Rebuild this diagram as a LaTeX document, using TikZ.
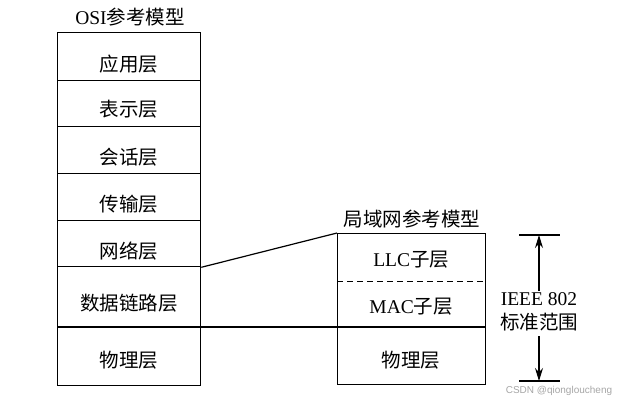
\documentclass[tikz,border=0pt]{standalone}
\usepackage{fontspec}
\setmainfont{Liberation Serif}
\newfontfamily\cjk{Noto Sans CJK SC}
\newfontfamily\wmfont{Liberation Sans}
\usetikzlibrary{arrows.meta}
\begin{document}
\begin{tikzpicture}[x=1pt,y=-1pt,
  every node/.style={font=\fontsize{19.5}{23}\selectfont},
  layer/.style={draw, line width=1.3pt, minimum width=143pt, inner sep=0pt, anchor=north west},
  sub/.style={minimum width=148pt, inner sep=0pt, anchor=north west},
  ttl/.style={inner sep=0pt},
  txt/.style={inner sep=0pt, font=\cjk\fontsize{19.5}{23}\selectfont},
  conn/.style={line width=1.2pt},
  arr/.style={line width=1.1pt, -{Stealth[length=13pt,width=8pt]}}
]
\useasboundingbox (0,0) rectangle (623,401);
% OSI stack
\node[ttl] (osit) at (130,17) {OSI{\cjk 参考模型}};
\node[layer, minimum height=48pt] (osi1) at (57,32) {};
\node[layer, minimum height=46pt] (osi2) at (57,80) {};
\node[layer, minimum height=47pt] (osi3) at (57,126) {};
\node[layer, minimum height=47pt] (osi4) at (57,173) {};
\node[layer, minimum height=46pt] (osi5) at (57,220) {};
\node[layer, minimum height=61pt] (osi6) at (57,266) {};
\node[layer, minimum height=58pt] (osi7) at (57,327) {};
\node[txt] (t1) at ([yshift=-7pt]osi1.center) {应用层};
\node[txt] (t2) at ([yshift=-6pt]osi2.center) {表示层};
\node[txt] (t3) at ([yshift=-7pt]osi3.center) {会话层};
\node[txt] (t4) at ([yshift=-7pt]osi4.center) {传输层};
\node[txt] (t5) at ([yshift=-7pt]osi5.center) {网络层};
\node[txt] (t6) at ([yshift=-6pt]osi6.center) {数据链路层};
\node[txt] (t7) at ([yshift=-4pt]osi7.center) {物理层};
% LAN stack
\node[ttl] (lant) at (412,219) {\cjk 局域网参考模型};
\node[draw, line width=1.3pt, minimum width=148pt, minimum height=151pt, inner sep=0pt, anchor=north west] (lan) at (337,233) {};
\node[sub, minimum height=48pt] (llc) at (337,233) {};
\node[sub, minimum height=46pt] (mac) at (337,281) {};
\node[sub, minimum height=57pt] (phy2) at (337,327) {};
\node[ttl] (tl) at ([yshift=-2pt]llc.center) {LLC{\cjk 子层}};
\node[ttl] (tm) at ([yshift=-2pt]mac.center) {MAC{\cjk 子层}};
\node[txt] (tp) at ([yshift=-4pt]phy2.center) {物理层};
\draw[line width=1.1pt, dash pattern=on 6pt off 4pt] (llc.south west) -- (llc.south east);
% connectors
\draw[conn] (osi5.south east) -- (lan.north west);
\draw[conn] (osi7.north west) -- (phy2.north east);
% IEEE 802 scope
\coordinate (ttop) at (539,235);
\coordinate (tbot) at (539,381);
\draw[line width=1.2pt] (519,235) -- (560,235);
\draw[line width=1.2pt] (519,381) -- (560,381);
\node[ttl, align=center, font=\fontsize{19.5}{24}\selectfont] (ieee) at (539,312) {IEEE 802\\{\cjk 标准范围}};
\draw[arr] (ieee.north) ++(0,-2) -- (ttop);
\draw[arr] (ieee.south) ++(0,5) -- (tbot);
% watermark
\node[ttl, text=black!35, font=\wmfont\fontsize{10}{12}\selectfont] (wm) at (559,391) {CSDN @qiongloucheng};
\end{tikzpicture}
\end{document}
